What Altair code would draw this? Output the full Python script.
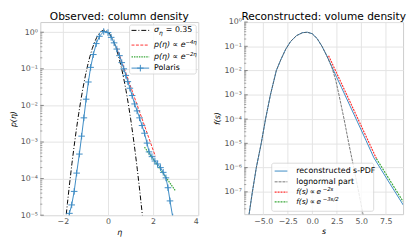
import altair as alt
import pandas as pd

# ---------------- Left panel data (column density) ----------------
gauss_eta = [-1.85, -1.8, -1.7, -1.6, -1.5, -1.4, -1.3, -1.2, -1.1, -1.0, -0.9, -0.8, -0.7,
             -0.6, -0.5, -0.4, -0.3, -0.2, -0.1, 0.0, 0.1, 0.2, 0.3, 0.4, 0.5, 0.6, 0.7,
             0.8, 0.9, 1.0, 1.1, 1.2, 1.3, 1.4, 1.5, 1.55]
gauss_p = [1.06e-5, 2.09e-5, 7.6e-5, 2.55e-4, 7.9e-4, 2.26e-3, 5.9e-3, 1.44e-2, 3.2e-2,
           6.6e-2, 0.126, 0.220, 0.355, 0.527, 0.721, 0.910, 1.058, 1.134, 1.120, 1.020,
           0.856, 0.662, 0.471, 0.310, 0.187, 0.1046, 0.0538, 0.0255, 0.0111, 4.48e-3,
           1.66e-3, 5.68e-4, 1.79e-4, 5.19e-5, 1.39e-5, 7.0e-6]

polaris_eta = [-1.82, -1.71, -1.61, -1.50, -1.39, -1.27, -1.17, -1.07, -0.97, -0.87, -0.77,
               -0.65, -0.52, -0.38, -0.19, 0.0, 0.14, 0.27, 0.39, 0.51, 0.61, 0.70, 0.79,
               0.88, 0.97, 1.07, 1.18, 1.29, 1.40, 1.51, 1.62, 1.73, 1.82, 1.95, 2.08,
               2.20, 2.33, 2.45, 2.57, 2.66, 2.75, 2.87]
polaris_logp = [-5.30, -4.95, -4.72, -4.35, -3.85, -3.33, -2.84, -2.34, -1.83, -1.36, -0.96,
                -0.61, -0.31, -0.11, 0.02, -0.01, -0.14, -0.29, -0.46, -0.64, -0.83, -1.00,
                -1.18, -1.35, -1.53, -1.73, -1.96, -2.15, -2.34, -2.55, -2.76, -3.03, -3.27,
                -3.40, -3.52, -3.60, -3.70, -3.83, -3.98, -4.25, -4.61, -5.05]

red_eta = [0.39, 2.10]
red_logp = [-0.42, -3.39]
green_eta = [1.62, 3.0]
green_logp = [-3.14, -4.34]

# ---------------- Right panel data (volume density) ----------------
recon_s = [-6.7, -6.43, -6.1, -5.7, -5.2, -4.76, -4.26, -3.66, -3.2, -2.7, -2.2, -1.6, -1.0,
           -0.5, 0.0, 0.5, 1.0, 1.5, 2.0, 2.5, 3.0, 4.0, 5.0, 5.5, 6.3, 7.0, 8.0, 9.3]
recon_logf = [-8.6, -7.9, -7.0, -6.0, -5.0, -4.0, -3.0, -2.0, -1.55, -1.12, -0.8, -0.56,
              -0.44, -0.42, -0.48, -0.68, -1.0, -1.4, -1.84, -2.28, -2.71, -3.58, -4.45,
              -4.89, -5.6, -6.06, -6.71, -7.55]
logn_s = [-6.7, -6.43, -6.1, -5.7, -5.2, -4.76, -4.26, -3.66, -3.2, -2.7, -2.2, -1.6, -1.0,
          -0.5, 0.0, 0.5, 1.0, 1.5, 2.0, 2.4, 2.73, 3.25, 3.73, 4.24, 4.74, 5.17, 5.4]
logn_logf = [-8.6, -7.9, -7.0, -6.0, -5.0, -4.0, -3.0, -2.0, -1.55, -1.12, -0.8, -0.56,
             -0.44, -0.42, -0.48, -0.68, -1.0, -1.4, -1.86, -2.4, -3.0, -4.0, -5.0, -6.0,
             -7.0, -7.9, -8.4]
red2_s = [1.67, 6.55]
red2_logf = [-1.39, -5.63]
green2_s = [6.55, 9.27]
green2_logf = [-5.63, -7.40]

left_ydomain = [1e-5, 1.9]
right_ydomain = [1.2e-8, 1]
left_yticks = [1, 1e-1, 1e-2, 1e-3, 1e-4, 1e-5]
right_yticks = [1, 1e-1, 1e-2, 1e-3, 1e-4, 1e-5, 1e-6, 1e-7]
left_xticks = [-2, 0, 2, 4]
right_xticks = [-5, -2.5, 0, 2.5, 5, 7.5]
minor_mult = [2, 3, 4, 5, 6, 7, 8, 9]

BLUE = "#3b8ac4"
RED = "#ff3030"
GREEN = "#3aa83a"
FONT = "DejaVu Sans"

SUP = "['⁰','¹','²','³','⁴','⁵','⁶','⁷','⁸','⁹']"
EXP = "round(log(datum.value)/LN10)"
LOG_LABEL = f"'10' + ({EXP} < 0 ? '⁻' : '') + {SUP}[abs({EXP})]"


def df(xs, ys, log=False):
    return pd.DataFrame({"x": xs, "y": [10 ** v for v in ys] if log else ys})


def text_layer(txt, x, y, size=8, style="normal", color="black", align="left",
               baseline="middle"):
    return alt.Chart(alt.Data(values=[{}])).mark_text(
        text=txt, align=align, baseline=baseline, font=FONT, fontSize=size,
        fontStyle=style, color=color
    ).encode(x=alt.value(x), y=alt.value(y))


def rule_layer(x1, x2, y, color, dash=None, width=1.0):
    kw = dict(color=color, strokeWidth=width)
    if dash:
        kw["strokeDash"] = dash
    return alt.Chart(alt.Data(values=[{}])).mark_rule(**kw).encode(
        x=alt.value(x1), x2=alt.value(x2), y=alt.value(y))


def box_layer(x1, x2, y1, y2):
    return alt.Chart(alt.Data(values=[{}])).mark_rect(
        fill="white", stroke="#cccccc", strokeWidth=0.8, cornerRadius=2, opacity=0.85
    ).encode(x=alt.value(x1), x2=alt.value(x2), y=alt.value(y1), y2=alt.value(y2))


def ytick_layers(yenc_field, majors, domain, lo_exp, hi_exp):
    minors = [m * 10 ** e for e in range(lo_exp, hi_exp) for m in minor_mult]
    minors = [v for v in minors if domain[0] <= v <= domain[1]]
    maj = alt.Chart(pd.DataFrame({"y": majors})).mark_rule(
        color="#666666", strokeWidth=0.8).encode(
        y=yenc_field, x=alt.value(0), x2=alt.value(3.5))
    mino = alt.Chart(pd.DataFrame({"y": minors})).mark_rule(
        color="#666666", strokeWidth=0.6).encode(
        y=yenc_field, x=alt.value(0), x2=alt.value(2))
    return [maj, mino]


# ---------------- Left panel ----------------
LW, LH = 161, 197
lx = alt.X("x:Q", scale=alt.Scale(domain=[-3, 4], nice=False, zero=False),
           axis=alt.Axis(values=left_xticks, title="η", titleFontStyle="italic",
                         format="d"))
ly = alt.Y("y:Q", scale=alt.Scale(type="log", domain=left_ydomain, nice=False),
           axis=alt.Axis(values=left_yticks, title="p(η)", titleFontStyle="italic",
                         labelExpr=LOG_LABEL))

gauss = alt.Chart(df(gauss_eta, gauss_p)).mark_line(
    color="black", strokeWidth=1, strokeDash=[5, 2, 1, 2], clip=True).encode(x=lx, y=ly)
red = alt.Chart(df(red_eta, red_logp, True)).mark_line(
    color=RED, strokeWidth=1, strokeDash=[3, 1.5], clip=True).encode(x=lx, y=ly)
green = alt.Chart(df(green_eta, green_logp, True)).mark_line(
    color=GREEN, strokeWidth=1.2, strokeDash=[1.5, 1], clip=True).encode(x=lx, y=ly)
pol_line = alt.Chart(df(polaris_eta, polaris_logp, True)).mark_line(
    color=BLUE, strokeWidth=1, clip=True).encode(x=lx, y=ly)
pol_pts = alt.Chart(df(polaris_eta, polaris_logp, True)).mark_point(
    shape="M-1,0L1,0M0,-1L0,1", filled=False, size=45, strokeWidth=1, color=BLUE,
    opacity=1, clip=True).encode(x=lx, y=ly)

lleg = [
    box_layer(91, 159, 3, 53),
    rule_layer(93, 111, 8.5, "black", [5, 2, 1, 2]),
    text_layer("σ", 116, 8.5, style="italic"),
    text_layer("η", 121, 11, size=6, style="italic"),
    text_layer("= 0.35", 128, 8.5),
    rule_layer(93, 111, 23.5, RED, [3, 1.5]),
    text_layer("p(η) ∝ e", 116, 23.5, style="italic"),
    text_layer("−4η", 148, 20.5, size=5.5, style="italic"),
    rule_layer(93, 111, 35.5, GREEN, [1.5, 1], 1.2),
    text_layer("p(η) ∝ e", 116, 35.5, style="italic"),
    text_layer("−2η", 148, 32.5, size=5.5, style="italic"),
    rule_layer(93, 111, 47, BLUE),
    alt.Chart(alt.Data(values=[{}])).mark_point(
        shape="M-1,0L1,0M0,-1L0,1", filled=False, size=45, strokeWidth=1, color=BLUE,
        opacity=1).encode(x=alt.value(102), y=alt.value(47)),
    text_layer("Polaris", 116, 47),
    text_layer("Observed: column density", LW / 2, -2.5, size=10.8, align="center",
               baseline="alphabetic"),
]

left = alt.layer(*ytick_layers(ly, left_yticks, left_ydomain, -5, 1), gauss, red, green,
                 pol_line, pol_pts, *lleg).properties(width=LW, height=LH)

# ---------------- Right panel ----------------
RW, RH = 162, 196
rx = alt.X("x:Q", scale=alt.Scale(domain=[-6.93, 9.27], nice=False, zero=False),
           axis=alt.Axis(values=right_xticks, title="s", titleFontStyle="italic",
                         format=".1f"))
ry = alt.Y("y:Q", scale=alt.Scale(type="log", domain=right_ydomain, nice=False),
           axis=alt.Axis(values=right_yticks, title="f(s)", titleFontStyle="italic",
                         labelExpr=LOG_LABEL))

recon = alt.Chart(df(recon_s, recon_logf, True)).mark_line(
    color=BLUE, strokeWidth=1, clip=True).encode(x=rx, y=ry)
logn = alt.Chart(df(logn_s, logn_logf, True)).mark_line(
    color="#555555", strokeWidth=0.8, strokeDash=[3, 1], clip=True).encode(x=rx, y=ry)
red2 = alt.Chart(df(red2_s, red2_logf, True)).mark_line(
    color=RED, strokeWidth=1.2, strokeDash=[2, 1], clip=True).encode(x=rx, y=ry)
green2 = alt.Chart(df(green2_s, green2_logf, True)).mark_line(
    color=GREEN, strokeWidth=1.2, strokeDash=[2, 1], clip=True).encode(x=rx, y=ry)

rleg = [
    box_layer(28, 132, 144, 193),
    rule_layer(31, 44, 152, BLUE),
    text_layer("reconstructed s-PDF", 53, 152),
    rule_layer(31, 44, 163, "#555555", [3, 1], 0.8),
    text_layer("lognormal part", 53, 163),
    rule_layer(31, 44, 173.5, RED, [2, 1], 1.2),
    text_layer("f(s)\u2009∝\u2009e", 53, 173.5, size=7.5, style="italic"),
    text_layer("−2s", 80, 170.5, size=5.5, style="italic"),
    rule_layer(31, 44, 183.5, GREEN, [2, 1], 1.2),
    text_layer("f(s)\u2009∝\u2009e", 53, 183.5, size=7.5, style="italic"),
    text_layer("−3s/2", 80, 180.5, size=5.5, style="italic"),
    text_layer("Reconstructed: volume density", RW / 2, -2.5, size=10.8, align="center",
               baseline="alphabetic"),
]

right = alt.layer(*ytick_layers(ry, right_yticks, right_ydomain, -8, 0), recon, logn,
                  red2, green2, *rleg).properties(width=RW, height=RH)

chart = alt.hconcat(left, right, spacing=13).properties(
    padding={"left": 0, "top": 0, "right": 0, "bottom": 0}
).configure_view(
    stroke="#cccccc", strokeWidth=1
).configure_axis(
    labelFont=FONT, labelFontSize=8, labelColor="#555555", titleFont=FONT,
    titleFontSize=8, titleFontWeight="normal", titleColor="black", grid=True,
    gridColor="#e3e3e3", gridWidth=1, domain=False, ticks=False, labelPadding=3,
    titlePadding=3
)

chart.save("out.html", embed_options={"renderer": "svg", "actions": False})
